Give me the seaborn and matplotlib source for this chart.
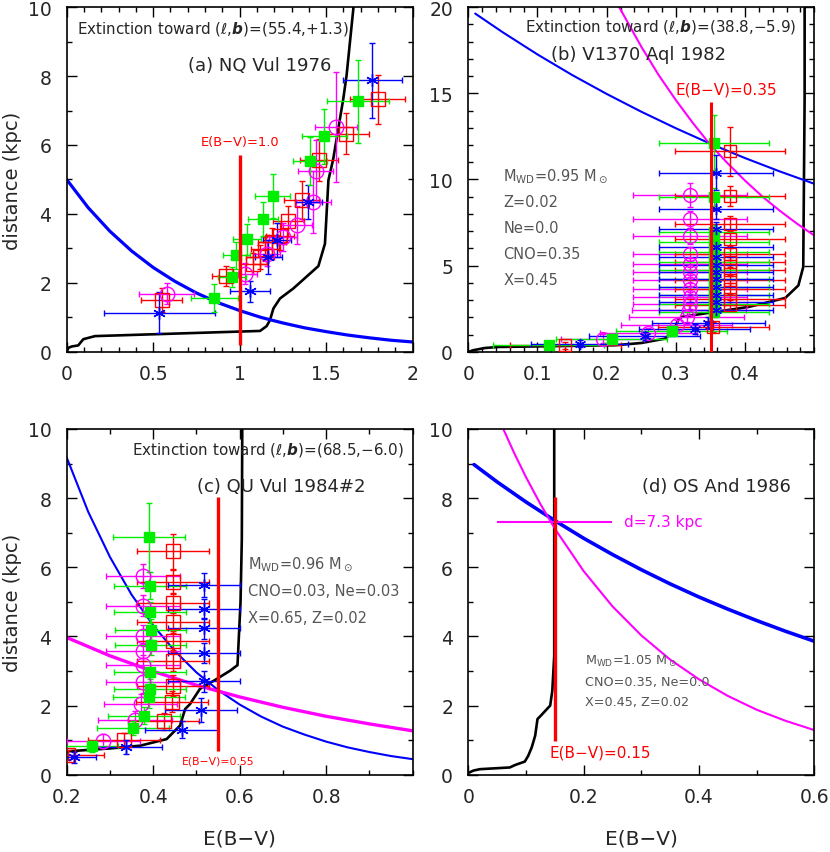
import numpy as np
import pandas as pd
import matplotlib
matplotlib.use('Agg')
import matplotlib.pyplot as plt
from matplotlib.ticker import MultipleLocator, FixedLocator, FuncFormatter
import seaborn as sns

# ============================================================
# PANEL (a): NQ Vul 1976
# ============================================================
a_ext_ebv = [0, 0.01, 0.03, 0.067, 0.096, 0.164, 1.118, 1.156, 1.175, 1.195, 1.233,
             1.31, 1.455, 1.493, 1.513, 1.541, 1.599, 1.618, 1.657, 1.665]
a_ext_d = [0, 0.12, 0.16, 0.19, 0.37, 0.46, 0.61, 0.75, 0.92, 1.26, 1.55,
           1.84, 2.49, 3.14, 4.98, 5.60, 7.34, 8.02, 9.95, 10.5]
a_blue_ebv = [0, 0.125, 0.25, 0.375, 0.5, 0.625, 0.75, 0.875, 1.0, 1.125, 1.25,
              1.375, 1.5, 1.625, 1.75, 1.875, 2.0]
a_blue_d = [5.00, 4.18, 3.50, 2.93, 2.45, 2.05, 1.71, 1.43, 1.20, 1.00, 0.84,
            0.70, 0.59, 0.49, 0.41, 0.34, 0.29]
a_ebv_line = [1.0, 0.2, 5.7]   # E(B-V), from, to

a_green_x = [0.854, 0.954, 0.981, 1.042, 1.135, 1.191, 1.407, 1.489, 1.686]
a_green_y = [1.57, 2.17, 2.80, 3.27, 3.86, 4.52, 5.54, 6.25, 7.27]
a_green_xe = [0.137, 0.08, 0.08, 0.08, 0.085, 0.10, 0.10, 0.13, 0.18]
a_green_ye = [0.41, 0.3, 0.4, 0.45, 0.5, 0.65, 0.7, 0.8, 1.2]
a_red_x = [0.549, 0.921, 1.079, 1.118, 1.146, 1.185, 1.233, 1.281, 1.358, 1.461, 1.615, 1.798]
a_red_y = [1.50, 2.20, 2.56, 2.75, 2.98, 3.19, 3.35, 3.79, 4.40, 5.56, 6.33, 7.32]
a_red_xe = [0.12, 0.08, 0.08, 0.08, 0.08, 0.08, 0.08, 0.09, 0.10, 0.11, 0.13, 0.16]
a_red_ye = [0.35, 0.3, 0.3, 0.35, 0.35, 0.4, 0.4, 0.45, 0.55, 0.6, 0.6, 0.7]
a_mag_x = [0.578, 1.031, 1.156, 1.252, 1.329, 1.426, 1.439, 1.557]
a_mag_y = [1.69, 2.27, 2.85, 3.33, 3.67, 4.35, 5.24, 6.52]
a_mag_xe = [0.16, 0.07, 0.08, 0.08, 0.09, 0.10, 0.10, 0.12]
a_mag_ye = [0.3, 0.3, 0.35, 0.4, 0.55, 0.9, 0.9, 1.6]
a_blue_x = [0.536, 1.06, 1.166, 1.214, 1.397, 1.767]
a_blue_y = [1.14, 1.76, 2.75, 3.24, 4.35, 7.87]
a_blue_xe = [0.32, 0.115, 0.08, 0.08, 0.08, 0.17]
a_blue_ye = [0.6, 0.3, 0.5, 0.5, 0.5, 1.1]

# ============================================================
# PANEL (b): V1370 Aql 1982
# ============================================================
b_ext_ebv = [0, 0.007, 0.024, 0.043, 0.212, 0.25, 0.284, 0.296, 0.303, 0.308,
             0.356, 0.405, 0.458, 0.477, 0.484, 0.486, 0.486]
b_ext_d = [0, 0.1, 0.23, 0.29, 0.39, 0.52, 0.77, 1.16, 1.84, 2.03,
           2.32, 2.61, 3.13, 3.86, 4.93, 14.7, 20.5]
b_blue_ebv = [0.01, 0.05, 0.1, 0.15, 0.2, 0.25, 0.3, 0.35, 0.4, 0.45, 0.5]
b_blue_d = [19.62, 18.53, 17.25, 16.06, 14.96, 13.93, 12.97, 12.07, 11.24, 10.47, 9.75]
b_mag_ebv = [0.218, 0.25, 0.275, 0.3, 0.325, 0.35, 0.375, 0.4, 0.425, 0.45, 0.475, 0.5]
b_mag_d = [20.0, 17.7, 16.06, 14.6, 13.25, 12.0, 10.93, 9.93, 9.01, 8.19, 7.44, 6.75]
b_ebv_line = [0.35, 0.0, 14.5]

b_green_x = [0.116, 0.207, 0.294] + [0.355] * 12
b_green_y = [0.39, 0.77, 1.22, 2.32, 2.80, 3.29, 3.77, 4.25, 4.73, 5.22, 5.80, 6.38, 6.96, 8.99, 12.14]
b_green_xe = [0.08] * 15
b_green_ye = [0.2, 0.25, 0.3, 0.3, 0.3, 0.3, 0.3, 0.3, 0.3, 0.3, 0.35, 0.35, 0.4, 0.5, 1.6]
b_red_x = [0.140, 0.354] + [0.378] * 11
b_red_y = [0.39, 1.45, 2.71, 3.09, 3.67, 4.15, 4.73, 5.22, 5.70, 6.53, 7.44, 9.04, 11.63]
b_red_xe = [0.08] * 13
b_red_ye = [0.2, 0.3, 0.3, 0.3, 0.3, 0.3, 0.3, 0.3, 0.35, 0.4, 0.45, 0.6, 1.4]
b_mag_x = [0.194, 0.260, 0.301, 0.3155, 0.319] + [0.3203] * 10
b_mag_y = [0.77, 1.10, 1.55, 2.03, 2.42, 2.80, 3.19, 3.67, 4.15, 4.64, 5.12, 5.70, 6.72, 7.69, 9.08]
b_mag_xe = [0.06, 0.07, 0.08] + [0.083] * 12
b_mag_ye = [0.25, 0.3, 0.3, 0.3, 0.3, 0.3, 0.3, 0.3, 0.3, 0.3, 0.35, 0.4, 0.45, 0.5, 0.7]
b_blue_x = [0.161, 0.255, 0.327, 0.347] + [0.358] * 12
b_blue_y = [0.48, 0.93, 1.35, 1.70, 2.42, 2.90, 3.29, 3.77, 4.25, 4.64, 5.02, 5.51, 6.09, 7.11, 8.31, 10.40]
b_blue_xe = [0.07, 0.08, 0.08] + [0.082] * 13
b_blue_ye = [0.2, 0.25, 0.3, 0.3, 0.3, 0.3, 0.3, 0.3, 0.3, 0.3, 0.35, 0.35, 0.4, 0.45, 0.6, 1.0]

# ============================================================
# PANEL (c): QU Vul 1984#2
# ============================================================
c_ext_ebv = [0.2, 0.3, 0.37, 0.431, 0.462, 0.474, 0.485, 0.508, 0.547, 0.578, 0.595,
             0.602, 0.605, 0.606, 0.606]
c_ext_d = [0.675, 0.76, 0.84, 1.03, 1.42, 1.90, 2.04, 2.48, 2.77, 3.01, 3.17,
           4.99, 6.82, 10.0, 10.5]
c_blue_ebv = [0.2, 0.25, 0.3, 0.35, 0.4, 0.45, 0.5, 0.55, 0.6, 0.65, 0.7, 0.75,
              0.8, 0.85, 0.9, 0.95, 1.0]
c_blue_d = [9.18, 7.60, 6.30, 5.21, 4.32, 3.58, 2.96, 2.45, 2.03, 1.68, 1.39, 1.16,
            0.957, 0.79, 0.656, 0.54, 0.45]
c_mag_ebv = [0.2, 0.3, 0.4, 0.5, 0.6, 0.7, 0.8, 0.9, 1.0]
c_mag_d = [3.97, 3.44, 2.99, 2.59, 2.25, 1.95, 1.69, 1.47, 1.27]
c_ebv_line = [0.55, 0.69, 8.02]

c_green_x = [0.258, 0.353, 0.379, 0.391, 0.393, 0.393, 0.394, 0.394, 0.393, 0.393, 0.391]
c_green_y = [0.82, 1.34, 1.71, 2.24, 2.48, 2.98, 3.75, 4.19, 4.70, 5.47, 6.87]
c_green_xe = [0.06] + [0.083] * 10
c_green_ye = [0.15, 0.2, 0.25, 0.3, 0.3, 0.3, 0.3, 0.3, 0.3, 0.4, 1.0]
c_red_x = [0.204, 0.333, 0.424, 0.443, 0.445, 0.445, 0.445, 0.445, 0.445, 0.445, 0.445]
c_red_y = [0.57, 1.01, 1.54, 2.11, 2.57, 3.30, 3.86, 4.41, 4.97, 5.58, 6.46]
c_red_xe = [0.083] * 11
c_red_ye = [0.15, 0.2, 0.25, 0.3, 0.3, 0.3, 0.3, 0.3, 0.3, 0.35, 0.5]
c_mag_x = [0.285, 0.358, 0.371, 0.376, 0.376, 0.376, 0.376, 0.376, 0.376]
c_mag_y = [0.98, 1.58, 2.04, 2.67, 3.17, 3.58, 4.02, 4.89, 5.74]
c_mag_xe = [0.085] * 9
c_mag_ye = [0.2, 0.25, 0.3, 0.3, 0.3, 0.3, 0.3, 0.3, 0.35]
c_blue_x = [0.217, 0.337, 0.466, 0.511, 0.518, 0.518, 0.518, 0.518, 0.518]
c_blue_y = [0.50, 0.81, 1.30, 1.88, 2.70, 3.52, 4.23, 4.79, 5.49]
c_blue_xe = [0.05, 0.083, 0.085, 0.083, 0.083, 0.083, 0.083, 0.083, 0.083]
c_blue_ye = [0.15, 0.2, 0.25, 0.35, 0.3, 0.3, 0.3, 0.3, 0.35]

# ============================================================
# PANEL (d): OS And 1986
# ============================================================
d_ext_ebv = [0, 0.009, 0.02, 0.072, 0.081, 0.098, 0.104, 0.11, 0.116, 0.12, 0.127,
             0.142, 0.1457, 0.149, 0.149, 0.149]
d_ext_d = [0.05, 0.12, 0.16, 0.21, 0.28, 0.38, 0.55, 0.79, 1.13, 1.61, 1.73,
           2.0, 2.43, 3.44, 10.0, 10.5]
d_blue_ebv = [0.01, 0.05, 0.1, 0.15, 0.2, 0.25, 0.3, 0.35, 0.4, 0.45, 0.5, 0.55, 0.6]
d_blue_d = [8.97, 8.47, 7.89, 7.35, 6.84, 6.37, 5.93, 5.52, 5.14, 4.79, 4.46, 4.15, 3.86]
d_mag_ebv = [0.0607, 0.08, 0.1, 0.125, 0.15, 0.2, 0.25, 0.3, 0.35, 0.4, 0.45, 0.5, 0.55, 0.6]
d_mag_d = [10.0, 9.29, 8.61, 7.83, 7.12, 5.89, 4.87, 4.03, 3.33, 2.76, 2.28, 1.88, 1.56, 1.29]
d_ebv_line = [0.15, 0.98, 8.02]
d_dist_line = [7.3, 0.05, 0.25]   # distance, E(B-V) from, to

# ============================================================
# STYLE
# ============================================================
sns.set_style('ticks')
plt.rcParams['font.family'] = ['DejaVu Sans']
plt.rcParams['mathtext.fontset'] = 'dejavusans'

GREEN = '#00ee00'
RED = '#ff0000'
MAG = '#ff00ff'
BLUE = '#0000ff'
GRAY = '#555555'

fig = plt.figure(figsize=(8.3, 8.53), dpi=100)
ax_a = fig.add_axes([0.0803, 0.5862, 0.4169, 0.4044])
ax_b = fig.add_axes([0.5642, 0.5862, 0.4169, 0.4044])
ax_c = fig.add_axes([0.0803, 0.0906, 0.4169, 0.4053])
ax_d = fig.add_axes([0.5642, 0.0906, 0.4169, 0.4053])


def style_axes(ax, xlim, ylim, xticks, xminor, yticks, yminor):
    ax.set_xlim(xlim)
    ax.set_ylim(ylim)
    ax.xaxis.set_major_locator(FixedLocator(xticks))
    ax.xaxis.set_minor_locator(MultipleLocator(xminor))
    ax.yaxis.set_major_locator(FixedLocator(yticks))
    ax.yaxis.set_minor_locator(MultipleLocator(yminor))
    fmt = FuncFormatter(lambda v, p: f'{v:g}')
    ax.xaxis.set_major_formatter(fmt)
    ax.yaxis.set_major_formatter(fmt)
    ax.tick_params(which='both', direction='in', top=True, right=True,
                   width=1.0, color='black', labelsize=13.5)
    ax.tick_params(which='major', length=7)
    ax.tick_params(which='minor', length=3.5)
    ax.tick_params(axis='y', which='major', pad=11)
    ax.tick_params(axis='x', which='major', pad=9)
    for sp in ax.spines.values():
        sp.set_linewidth(1.2)
        sp.set_color('black')


def curve(ax, x, y, color, lw):
    sns.lineplot(x=x, y=y, ax=ax, color=color, lw=lw, estimator=None, sort=False, zorder=2)


def points(ax, x, y, xe, ye, kind, ms_scale=1.0):
    if kind == 'green':
        kw = dict(marker='s', ms=7.5, mfc=GREEN, mec=GREEN, ecolor=GREEN)
    elif kind == 'red':
        kw = dict(marker='s', ms=9.5, mfc='none', mec=RED, ecolor=RED, mew=1.0)
    elif kind == 'mag':
        kw = dict(marker='o', ms=10.5, mfc='none', mec=MAG, ecolor=MAG, mew=1.0)
    else:
        kw = dict(marker=(6, 2, 0), ms=9, mfc=BLUE, mec=BLUE, ecolor=BLUE, mew=1.0)
    kw['ms'] *= ms_scale
    ax.errorbar(x, y, xerr=xe, yerr=ye, fmt='', ls='none', elinewidth=1.0, capsize=2,
                capthick=1.0, zorder=3, **kw)


EXT = 'Extinction toward ($\\ell$,$\\mathbfit{b}$)='

# ------------------------------------------------------------
# (a)
# ------------------------------------------------------------
curve(ax_a, a_ext_ebv, a_ext_d, 'black', 1.9)
curve(ax_a, a_blue_ebv, a_blue_d, BLUE, 2.3)
points(ax_a, a_red_x, a_red_y, a_red_xe, a_red_ye, 'red')
points(ax_a, a_mag_x, a_mag_y, a_mag_xe, a_mag_ye, 'mag')
points(ax_a, a_blue_x, a_blue_y, a_blue_xe, a_blue_ye, 'blue')
points(ax_a, a_green_x, a_green_y, a_green_xe, a_green_ye, 'green')
ax_a.vlines(a_ebv_line[0], a_ebv_line[1], a_ebv_line[2], color=RED, lw=2.4, zorder=4)
ax_a.text(a_ebv_line[0], 6.09, 'E(B−V)=1.0', color=RED, fontsize=9.4, ha='center', va='center')
ax_a.text(0.062, 9.39, EXT + '(55.4,+1.3)', fontsize=10.9, ha='left', va='center')
ax_a.text(0.703, 8.33, '(a) NQ Vul 1976', fontsize=13, ha='left', va='center')
style_axes(ax_a, (0, 2), (0, 10), [0, 0.5, 1, 1.5, 2], 0.1, [0, 2, 4, 6, 8, 10], 1)
ax_a.set_ylabel('distance (kpc)', fontsize=14)
ax_a.yaxis.set_label_coords(-0.13, 0.5)
ax_a.set_xlabel('')

# ------------------------------------------------------------
# (b)
# ------------------------------------------------------------
curve(ax_b, b_ext_ebv, b_ext_d, 'black', 1.9)
curve(ax_b, b_blue_ebv, b_blue_d, BLUE, 1.5)
curve(ax_b, b_mag_ebv, b_mag_d, MAG, 1.5)
points(ax_b, b_mag_x, b_mag_y, b_mag_xe, b_mag_ye, 'mag', 0.95)
points(ax_b, b_red_x, b_red_y, b_red_xe, b_red_ye, 'red', 0.95)
points(ax_b, b_green_x, b_green_y, b_green_xe, b_green_ye, 'green', 0.95)
points(ax_b, b_blue_x, b_blue_y, b_blue_xe, b_blue_ye, 'blue', 0.9)
ax_b.vlines(b_ebv_line[0], b_ebv_line[1], b_ebv_line[2], color=RED, lw=2.2, zorder=4)
ax_b.text(0.2996, 15.27, 'E(B−V)=0.35', color=RED, fontsize=11, ha='left', va='center')
ax_b.text(0.0819, 18.9, EXT + '(38.8,−5.9)', fontsize=10.9, ha='left', va='center')
ax_b.text(0.120, 17.3, '(b) V1370 Aql 1982', fontsize=13, ha='left', va='center')
b_params = ['M$_{\\rm WD}$=0.95 M$_\\odot$', 'Z=0.02', 'Ne=0.0', 'CNO=0.35', 'X=0.45']
for txt, yy in zip(b_params, [10.24, 8.73, 7.23, 5.70, 4.21]):
    ax_b.text(0.0506, yy, txt, fontsize=10.5, color=GRAY, ha='left', va='center')
style_axes(ax_b, (0, 0.5), (0, 20), [0, 0.1, 0.2, 0.3, 0.4], 0.02, [0, 5, 10, 15, 20], 1)
ax_b.set_ylabel('')
ax_b.set_xlabel('')

# ------------------------------------------------------------
# (c)
# ------------------------------------------------------------
curve(ax_c, c_ext_ebv, c_ext_d, 'black', 1.9)
curve(ax_c, c_blue_ebv, c_blue_d, BLUE, 1.5)
curve(ax_c, c_mag_ebv, c_mag_d, MAG, 2.4)
points(ax_c, c_mag_x, c_mag_y, c_mag_xe, c_mag_ye, 'mag')
points(ax_c, c_red_x, c_red_y, c_red_xe, c_red_ye, 'red')
points(ax_c, c_green_x, c_green_y, c_green_xe, c_green_ye, 'green')
points(ax_c, c_blue_x, c_blue_y, c_blue_xe, c_blue_ye, 'blue')
ax_c.vlines(c_ebv_line[0], c_ebv_line[1], c_ebv_line[2], color=RED, lw=2.4, zorder=4)
ax_c.text(c_ebv_line[0], 0.40, 'E(B−V)=0.55', color=RED, fontsize=7.8, ha='center', va='center')
ax_c.text(0.350, 9.42, EXT + '(68.5,−6.0)', fontsize=10.9, ha='left', va='center')
ax_c.text(0.5006, 8.34, '(c) QU Vul 1984#2', fontsize=13, ha='left', va='center')
c_params = ['M$_{\\rm WD}$=0.96 M$_\\odot$', 'CNO=0.03, Ne=0.03', 'X=0.65, Z=0.02']
for txt, yy in zip(c_params, [6.12, 5.33, 4.54]):
    ax_c.text(0.62, yy, txt, fontsize=10.5, color=GRAY, ha='left', va='center')
style_axes(ax_c, (0.2, 1.0), (0, 10), [0.2, 0.4, 0.6, 0.8], 0.1, [0, 2, 4, 6, 8, 10], 1)
ax_c.set_ylabel('distance (kpc)', fontsize=14)
ax_c.yaxis.set_label_coords(-0.13, 0.5)
ax_c.set_xlabel('E(B−V)', fontsize=14.5)
ax_c.xaxis.set_label_coords(0.5, -0.155)

# ------------------------------------------------------------
# (d)
# ------------------------------------------------------------
curve(ax_d, d_ext_ebv, d_ext_d, 'black', 1.9)
curve(ax_d, d_blue_ebv, d_blue_d, BLUE, 2.6)
curve(ax_d, d_mag_ebv, d_mag_d, MAG, 1.5)
ax_d.hlines(d_dist_line[0], d_dist_line[1], d_dist_line[2], color=MAG, lw=1.5, zorder=3)
ax_d.vlines(d_ebv_line[0], d_ebv_line[1], d_ebv_line[2], color=RED, lw=2.4, zorder=4)
ax_d.text(0.2705, 7.32, 'd=7.3 kpc', color=MAG, fontsize=11, ha='left', va='center')
ax_d.text(0.1416, 0.65, 'E(B−V)=0.15', color=RED, fontsize=11, ha='left', va='center')
ax_d.text(0.3006, 8.34, '(d) OS And 1986', fontsize=13, ha='left', va='center')
d_params = ['M$_{\\rm WD}$=1.05 M$_\\odot$', 'CNO=0.35, Ne=0.0', 'X=0.45, Z=0.02']
for txt, yy in zip(d_params, [3.30, 2.71, 2.11]):
    ax_d.text(0.2017, yy, txt, fontsize=9.2, color=GRAY, ha='left', va='center')
style_axes(ax_d, (0, 0.6), (0, 10), [0, 0.2, 0.4, 0.6], 0.1, [0, 2, 4, 6, 8, 10], 1)
ax_d.set_ylabel('')
ax_d.set_xlabel('E(B−V)', fontsize=14.5)
ax_d.xaxis.set_label_coords(0.5, -0.155)

fig.savefig('out.png', dpi=100)
plt.close(fig)
